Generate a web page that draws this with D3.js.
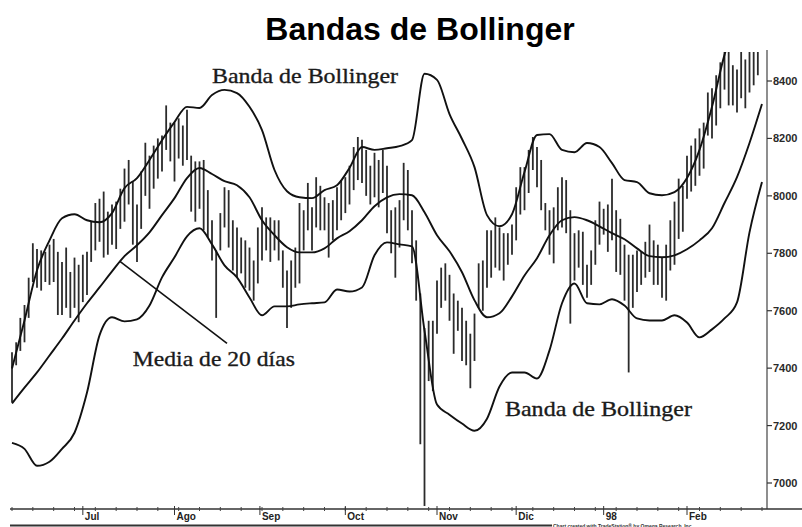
<!DOCTYPE html>
<html>
<head>
<meta charset="UTF-8"/>
<title>Bandas de Bollinger</title>
<script src="https://d3js.org/d3.v7.min.js"></script>
<style>
body { margin: 0; background: #fff; }
svg { display: block; background: #fff; }
.title { font-family: 'Liberation Sans', Arial, sans-serif; font-weight: bold; font-size: 32px; fill: #000; }
.note { font-family: 'Liberation Serif', 'Times New Roman', serif; font-size: 22px; fill: #1a1a1a; stroke: #1a1a1a; stroke-width: 0.35px; }
.axis-label { font-family: 'Liberation Sans Narrow', 'Liberation Sans', Arial, sans-serif; font-weight: bold; font-size: 11px; fill: #2a2a2a; }
.month-label { font-family: 'Liberation Sans Narrow', 'Liberation Sans', Arial, sans-serif; font-weight: bold; font-size: 10px; fill: #222; }
.credit { font-family: 'Liberation Sans', Arial, sans-serif; font-weight: bold; font-size: 5px; fill: #333; }
</style>
</head>
<body>
<svg width="802" height="527"></svg>
<script>
// daily bars, index 0 = first trading day shown (mid June 1997)
var highs = [7455,7490,7575,7620,7715,7835,7815,7810,7805,7830,
  7850,7805,7770,7820,7735,7785,7760,7795,7805,7910,
  7975,7990,8015,7945,7970,7980,8025,8095,8125,8050,
  7970,8085,8185,8140,8175,8200,8210,8315,8255,8255,
  8270,8245,8300,8140,8120,8120,8125,8020,7915,7810,
  7940,8030,8020,7915,7890,7855,7845,7820,7775,7890,
  7960,7925,7925,7915,7915,7810,7740,7775,7820,7975,
  7950,8045,7960,8065,8035,7995,7975,7985,8030,8055,
  8065,8105,8170,8205,8195,8160,8105,8150,8125,8160,
  8105,7950,7960,7985,8115,8090,7950,7845,7660,7540,
  7565,7565,7705,7750,7765,7725,7660,7635,7610,7565,
  7520,7590,7765,7775,7880,7880,7925,7890,7870,7870,
  7900,8030,8100,8100,8160,8205,8170,8125,7975,7950,
  7960,8030,8065,8055,7950,7870,7880,7875,7760,7810,
  7915,7980,7955,7970,8060,7950,7920,7830,7795,7795,
  7810,7805,7840,7900,7845,7830,7785,7830,7915,7980,
  8060,8035,8140,8175,8200,8235,8255,8360,8375,8420,
  8465,8520,8525,8455,8440,8510,8475,8525,8525,8545];

var lows = [7280,7410,7460,7490,7575,7700,7680,7670,7700,7690,
  7700,7585,7585,7610,7575,7610,7560,7630,7655,7770,
  7810,7840,7785,7795,7830,7815,7885,7910,7970,7830,
  7770,7885,8000,7955,8025,8060,8085,8160,8120,8050,
  8130,8105,8125,7945,7910,7955,7880,7855,7775,7575,
  7810,7890,7820,7740,7715,7730,7680,7670,7635,7695,
  7775,7810,7770,7810,7775,7680,7540,7610,7680,7695,
  7810,7880,7810,7890,7880,7880,7785,7845,7880,7915,
  7940,7970,8020,8055,8045,8000,7970,7995,7960,8010,
  7870,7800,7715,7820,7915,7880,7765,7635,7135,6920,
  7355,7320,7520,7610,7635,7565,7450,7530,7425,7410,
  7330,7425,7610,7600,7680,7715,7750,7740,7705,7760,
  7795,7845,7935,7950,8010,8090,8030,7950,7880,7795,
  7765,7880,7890,7870,7555,7705,7750,7690,7645,7690,
  7760,7830,7865,7805,7845,7735,7725,7635,7385,7610,
  7665,7690,7715,7735,7690,7690,7645,7635,7740,7760,
  7850,7875,7990,8015,8035,8070,8095,8210,8200,8245,
  8305,8370,8315,8315,8290,8340,8305,8360,8385,8420];

// band values every third trading day
var upperBand = [7399,7566,7741,7845,7922,7936,7915,7908,7940,8027,
  8062,8125,8194,8257,8310,8306,8351,8369,8358,8310,
  8229,8090,8016,7995,7992,8020,8037,8097,8170,8160,
  8166,8173,8194,8425,8404,8285,8198,8100,7933,7894,
  7936,8083,8212,8215,8160,8152,8184,8170,8114,8055,
  8048,8009,8002,8013,8062,8160,8310,8491,8613,8735,8858];

var movingAvg = [7277,7332,7385,7444,7503,7566,7626,7681,7737,7790,
  7828,7873,7933,7992,8062,8097,8076,8051,8037,7995,
  7915,7863,7821,7803,7803,7817,7852,7877,7915,7964,
  7995,8006,8002,7943,7863,7807,7734,7636,7577,7591,
  7650,7723,7783,7863,7915,7926,7915,7894,7870,7849,
  7817,7790,7786,7793,7814,7845,7887,7975,8065,8184,8320];

var lowerBand = [7140,7119,7060,7074,7119,7175,7315,7514,7577,7563,
  7570,7618,7716,7786,7859,7887,7831,7758,7716,7646,
  7584,7615,7615,7622,7626,7629,7674,7667,7681,7793,
  7838,7831,7824,7531,7273,7238,7207,7182,7224,7336,
  7385,7385,7364,7462,7626,7695,7626,7622,7640,7618,
  7573,7566,7566,7584,7559,7507,7535,7573,7629,7873,8048];

var monthLabels = ["Jul", "Ago", "Sep", "Oct", "Nov", "Dic", "98", "Feb"];
var monthStarts = [17, 39, 59.5, 80, 102, 121, 142, 162];
var priceTicks = [7000, 7200, 7400, 7600, 7800, 8000, 8200, 8400];

var svg = d3.select("svg");
var plotTop = 52, plotBottom = 509, axisX = 767;

var x = d3.scaleLinear().domain([0, 180]).range([12, 762]);
var y = d3.scaleLinear().domain([7000, 8400]).range([483, 81]);

svg.append("defs").append("clipPath").attr("id", "plot")
  .append("rect").attr("x", 0).attr("y", plotTop)
  .attr("width", axisX).attr("height", plotBottom - plotTop);

var g = svg.append("g").attr("clip-path", "url(#plot)");

// price bars
g.selectAll(".bar")
  .data(highs)
  .enter().append("line")
    .attr("class", "bar")
    .attr("x1", function(d, i) { return x(i); })
    .attr("x2", function(d, i) { return x(i); })
    .attr("y1", function(d) { return y(d); })
    .attr("y2", function(d, i) { return y(lows[i]); })
    .attr("stroke", "#2b2b2b")
    .attr("stroke-width", 1.8);

var bandIdx = d3.range(0, 181, 3);
var line = d3.line()
  .x(function(d, k) { return x(bandIdx[k]); })
  .y(function(d) { return y(d); })
  .curve(d3.curveMonotoneX);

[upperBand, movingAvg, lowerBand].forEach(function(series) {
  g.append("path")
    .datum(series)
    .attr("d", line)
    .attr("fill", "none")
    .attr("stroke", "#111")
    .attr("stroke-width", 1.9);
});

// right price axis
svg.append("line")
  .attr("x1", axisX).attr("x2", axisX)
  .attr("y1", plotTop - 2).attr("y2", plotBottom)
  .attr("stroke", "#444").attr("stroke-width", 1.2);

var yt = svg.selectAll(".ytick").data(priceTicks).enter().append("g")
  .attr("transform", function(d) { return "translate(" + axisX + "," + y(d) + ")"; });
yt.append("line").attr("x2", 5).attr("stroke", "#333").attr("stroke-width", 1.2);
yt.append("text")
  .attr("class", "axis-label")
  .attr("x", 6).attr("dy", "0.36em")
  .text(function(d) { return d; });

// bottom time axis
svg.append("line")
  .attr("x1", 10).attr("x2", 802)
  .attr("y1", plotBottom).attr("y2", plotBottom)
  .attr("stroke", "#333").attr("stroke-width", 1.3);

svg.selectAll(".wtick").data(d3.range(0, 181, 5)).enter().append("line")
  .attr("x1", function(d) { return x(d); }).attr("x2", function(d) { return x(d); })
  .attr("y1", plotBottom - 2).attr("y2", plotBottom + 2)
  .attr("stroke", "#444");

svg.selectAll(".mtick").data(monthStarts).enter().append("line")
  .attr("x1", function(d) { return x(d); }).attr("x2", function(d) { return x(d); })
  .attr("y1", plotBottom - 3).attr("y2", plotBottom + 6)
  .attr("stroke", "#333");

svg.selectAll(".mlabel").data(monthLabels).enter().append("text")
  .attr("class", "month-label")
  .attr("x", function(d, i) { return x(monthStarts[i]) + 2; })
  .attr("y", 520)
  .text(function(d) { return d; });

svg.append("line")
  .attr("x1", 10).attr("x2", 552)
  .attr("y1", 525.5).attr("y2", 525.5)
  .attr("stroke", "#333").attr("stroke-width", 2);

svg.append("text")
  .attr("class", "credit")
  .attr("x", 553).attr("y", 527.5)
  .text("Chart created with TradeStation\u00ae by Omega Research, Inc.");

// annotations
svg.append("line")
  .attr("x1", x(25.9)).attr("y1", y(7772))
  .attr("x2", x(51.6)).attr("y2", y(7486))
  .attr("stroke", "#111").attr("stroke-width", 1.6);

var notes = [
  {text: "Banda de Bollinger", i: 48, v: 8393, w: 186},
  {text: "Media de 20 días", i: 29, v: 7409, w: 162},
  {text: "Banda de Bollinger", i: 118.3, v: 7235, w: 187}
];
svg.selectAll(".note").data(notes).enter().append("text")
  .attr("class", "note")
  .attr("x", function(d) { return x(d.i); })
  .attr("y", function(d) { return y(d.v); })
  .attr("textLength", function(d) { return d.w; })
  .attr("lengthAdjust", "spacingAndGlyphs")
  .text(function(d) { return d.text; });

svg.append("text")
  .attr("class", "title")
  .attr("x", 420).attr("y", 40)
  .attr("text-anchor", "middle")
  .text("Bandas de Bollinger");
</script>
</body>
</html>
